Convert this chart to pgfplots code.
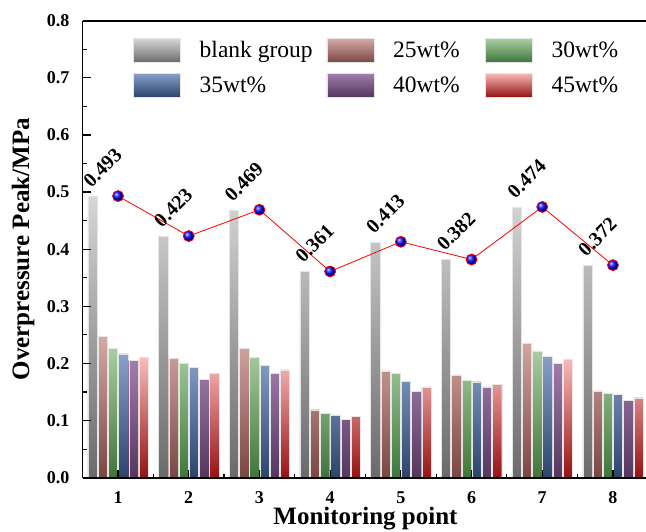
\documentclass[border=0pt]{standalone}
\usepackage{pgfplots}
\pgfplotsset{compat=1.18}
\usepackage{pgfplotstable}
\usepackage{fontspec}
\setmainfont{Liberation Serif}

\definecolor{gtop}{RGB}{214,214,214}
\definecolor{gbot}{RGB}{106,106,106}
\definecolor{btop}{RGB}{214,170,166}
\definecolor{bbot}{RGB}{122,70,66}
\definecolor{ntop}{RGB}{170,206,162}
\definecolor{nbot}{RGB}{62,118,58}
\definecolor{ltop}{RGB}{137,162,202}
\definecolor{lbot}{RGB}{44,68,108}
\definecolor{ptop}{RGB}{162,126,172}
\definecolor{pbot}{RGB}{84,54,94}
\definecolor{rtop}{RGB}{250,188,188}
\definecolor{rbot}{RGB}{150,18,18}

\pgfplotstableread{
x blank w25 w30 w35 w40 w45
1 0.493 0.248 0.227 0.217 0.206 0.211
2 0.423 0.209 0.201 0.193 0.172 0.183
3 0.469 0.226 0.211 0.197 0.183 0.189
4 0.361 0.119 0.113 0.110 0.102 0.107
5 0.413 0.187 0.183 0.169 0.151 0.159
6 0.382 0.180 0.171 0.168 0.159 0.164
7 0.474 0.235 0.222 0.213 0.200 0.207
8 0.372 0.152 0.148 0.146 0.135 0.140
}\datatable

\begin{document}
\begin{tikzpicture}
\begin{axis}[
  at={(0pt,0pt)}, anchor=south west,
  scale only axis, width=565.6pt, height=457pt,
  xmin=0.5, xmax=8.5, ymin=0, ymax=0.8,
  axis x line*=box, axis y line*=left,
  xtick={1,2,3,4,5,6,7,8}, minor x tick num=1,
  ytick distance=0.1, minor y tick num=1,
  tick align=inside, xtick pos=bottom,
  major tick length=8pt, minor tick length=4pt,
  tick style={black, line width=1.2pt},
  axis line style={black, line width=1.6pt},
  axis on top,
  /pgf/number format/assume math mode=true,
  ticklabel style={font=\fontsize{18}{20}\selectfont\bfseries},
  yticklabel style={/pgf/number format/.cd, fixed, fixed zerofill, precision=1, /tikz/.cd, inner sep=0pt, xshift=-13pt},
  xticklabel style={yshift=-10pt},
  xlabel={Monitoring point}, ylabel={Overpressure Peak/MPa},
  label style={font=\fontsize{25}{25}\selectfont\bfseries, inner sep=0pt},
  xlabel style={at={(axis description cs:0.5,-0.103)}, anchor=base},
  ylabel style={at={(axis description cs:-0.085,0.5)}, anchor=south, rotate=0},
  legend columns=3,
  legend style={at={(axis description cs:0.089,0.962)}, anchor=north west, draw=none, fill=none,
    font=\fontsize{23.5}{23.5}\selectfont, inner sep=0pt, row sep=10pt, nodes={inner sep=0pt},
    /tikz/every odd column/.append style={column sep=19pt}},
  legend image code/.code={\draw[#1, line width=0.5pt] (0pt,-12pt) rectangle (47pt,12pt);},
  bar width=0.132,
]
\addplot[ybar, bar shift=-0.361, draw=white!80!gray, top color=gtop, bottom color=gbot,
  nodes near coords={\pgfmathprintnumber[fixed,fixed zerofill,precision=3]{\pgfplotspointmeta}},
  every node near coord/.style={font=\fontsize{20}{20}\selectfont\bfseries, black, inner sep=0pt,
    xshift=-31.5pt, yshift=12pt, rotate=45, anchor=west}]
  table[x=x,y=blank]{\datatable};
\addplot[ybar, bar shift=-0.217, draw=white!80!gray, top color=btop, bottom color=bbot] table[x=x,y=w25]{\datatable};
\addplot[ybar, bar shift=-0.072, draw=white!80!gray, top color=ntop, bottom color=nbot] table[x=x,y=w30]{\datatable};
\addplot[ybar, bar shift=0.072, draw=white!80!gray, top color=ltop, bottom color=lbot] table[x=x,y=w35]{\datatable};
\addplot[ybar, bar shift=0.217, draw=white!80!gray, top color=ptop, bottom color=pbot] table[x=x,y=w40]{\datatable};
\addplot[ybar, bar shift=0.361, draw=white!80!gray, top color=rtop, bottom color=rbot] table[x=x,y=w45]{\datatable};
\addplot[red, line width=0.8pt, mark=ball, mark size=5.5pt, mark options={ball color=blue}, forget plot]
  table[x=x,y=blank]{\datatable};
\legend{\makebox[127pt][l]{blank group}, \makebox[92pt][l]{25wt\%}, 30wt\%, \makebox[127pt][l]{35wt\%}, \makebox[92pt][l]{40wt\%}, 45wt\%}
\end{axis}
\pgfresetboundingbox
\useasboundingbox (-82.7pt,-53.3pt) rectangle (563.3pt,477.7pt);
\end{tikzpicture}
\end{document}
